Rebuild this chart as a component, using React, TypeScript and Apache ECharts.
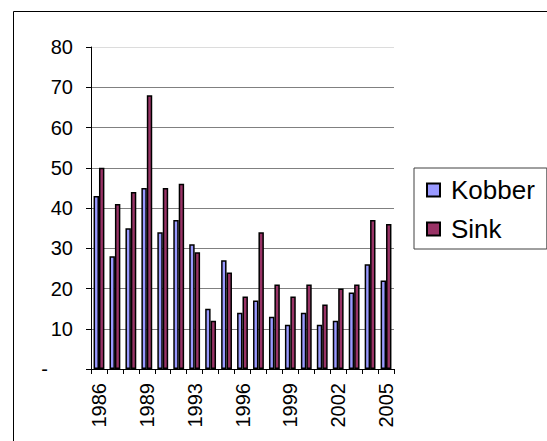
import React, { useEffect, useRef } from "react";
import * as echarts from "echarts";

// Annual values per year (1992 not reported)
const years = [
  "1986", "1987", "1988", "1989", "1990", "1991", "1993", "1994", "1995", "1996",
  "1997", "1998", "1999", "2000", "2001", "2002", "2003", "2004", "2005",
];
const kobber = [43, 28, 35, 45, 34, 37, 31, 15, 27, 14, 17, 13, 11, 14, 11, 12, 19, 26, 22];
const sink = [50, 41, 44, 68, 45, 46, 29, 12, 24, 18, 34, 21, 18, 21, 16, 20, 21, 37, 36];
const seriesNames = ["Kobber", "Sink"];

const FONT = "'Liberation Sans', Arial, Helvetica, sans-serif";

export default function App() {
  const ref = useRef<HTMLDivElement>(null);

  useEffect(() => {
    if (!ref.current) return;
    const chart = echarts.init(ref.current, undefined, { renderer: "svg" });
    const gridColors = ["#808080", "#808080", "#808080", "#808080", "#808080", "#808080", "#808080", "#808080", "#dcdcdc"];
    chart.setOption({
      animation: false,
      backgroundColor: "#ffffff",
      graphic: [
        {
          type: "rect",
          shape: { x: 13.5, y: 11.5, width: 700, height: 600 },
          style: { fill: "none", stroke: "#000000", lineWidth: 1 },
          silent: true,
        },
      ],
      grid: { left: 91, right: 153, top: 47, bottom: 72, containLabel: false },
      legend: {
        orient: "vertical",
        left: 414,
        top: 168,
        data: seriesNames,
        icon: "rect",
        itemWidth: 13,
        itemHeight: 13,
        itemGap: 13,
        padding: [9, 12, 7, 12],
        borderColor: "#404040",
        borderWidth: 1,
        textStyle: {
          fontFamily: FONT,
          fontSize: 26,
          lineHeight: 25,
          color: "#000000",
          padding: [0, 0, 0, 6],
        },
      },
      xAxis: {
        type: "category",
        data: years,
        boundaryGap: true,
        axisLine: { lineStyle: { color: "#000000", width: 1 } },
        axisTick: { show: true, interval: 0, length: 5, lineStyle: { color: "#000000" } },
        axisLabel: {
          interval: 2,
          rotate: 90,
          margin: 14,
          fontFamily: FONT,
          fontSize: 20,
          color: "#000000",
        },
        splitLine: { show: false },
      },
      yAxis: {
        type: "value",
        min: 0,
        max: 80,
        interval: 10,
        axisLine: { show: true, lineStyle: { color: "#000000", width: 1 } },
        axisTick: { show: true, length: 5, lineStyle: { color: "#000000" } },
        axisLabel: {
          margin: 18,
          fontFamily: FONT,
          fontSize: 20,
          color: "#000000",
          formatter: (v: number) => (v === 0 ? "{d|-}" : String(v)),
          rich: {
            d: { fontFamily: FONT, fontSize: 20, color: "#000000", padding: [0, 25, 0, 0] },
          },
        },
        splitLine: { show: true, lineStyle: { color: gridColors, width: 1 } },
      },
      series: [
        {
          name: seriesNames[0],
          type: "bar",
          data: kobber,
          barGap: "0%",
          barCategoryGap: "32%",
          itemStyle: { color: "#9999ff", borderColor: "#000000", borderWidth: 1.5 },
        },
        {
          name: seriesNames[1],
          type: "bar",
          data: sink,
          barGap: "0%",
          barCategoryGap: "32%",
          itemStyle: { color: "#993366", borderColor: "#000000", borderWidth: 1.5 },
        },
      ],
    });
    return () => chart.dispose();
  }, []);

  return (
    <div
      ref={ref}
      style={{ position: "fixed", left: 0, top: 0, width: 547, height: 441 }}
    />
  );
}
